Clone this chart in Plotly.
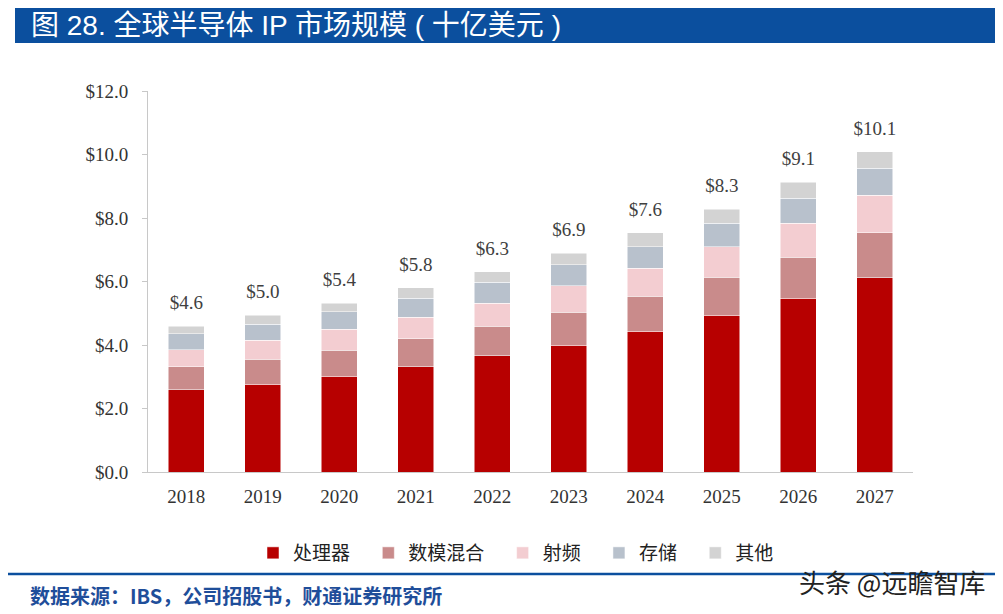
import plotly.graph_objects as go

years = ["2018", "2019", "2020", "2021", "2022", "2023", "2024", "2025", "2026", "2027"]
processor = [2.59, 2.77, 3.01, 3.32, 3.66, 4.00, 4.44, 4.94, 5.48, 6.12]
mixed_signal = [0.72, 0.78, 0.83, 0.88, 0.93, 1.03, 1.09, 1.19, 1.28, 1.42]
rf = [0.54, 0.60, 0.65, 0.67, 0.73, 0.84, 0.88, 0.97, 1.07, 1.18]
memory = [0.51, 0.50, 0.55, 0.60, 0.65, 0.65, 0.68, 0.73, 0.80, 0.85]
other = [0.23, 0.29, 0.27, 0.33, 0.34, 0.37, 0.44, 0.44, 0.49, 0.52]
total_labels = ["$4.6", "$5.0", "$5.4", "$5.8", "$6.3", "$6.9", "$7.6", "$8.3", "$9.1", "$10.1"]

series_names = ["处理器", "数模混合", "射频", "存储", "其他"]
series_values = [processor, mixed_signal, rf, memory, other]
colors = ["#B70000", "#C98B8B", "#F3CDD1", "#B8C1CC", "#D3D3D3"]

# page body has an 8px margin: figure pixel = screen pixel - 8
OFF = 8
W, H = 1003 - OFF, 614 - OFF
L, R, T, B = 148 - OFF, 913 - OFF, 91 - OFF, 472 - OFF
pw, ph = R - L, B - T


def px(x):  # screen x -> paper
    return (x - OFF - L) / pw


def py(y):  # screen y -> paper
    return (B - (y - OFF)) / ph


GAP = "\u2002\u2009"  # extra spacing after each legend entry

fig = go.Figure()
for name, vals, col in zip(series_names, series_values, colors):
    fig.add_trace(go.Bar(
        x=years, y=vals, name=name + GAP,
        marker=dict(color=col, line=dict(color="white", width=0.5)),
    ))

totals = [round(sum(v), 3) for v in zip(*series_values)]
fig.add_trace(go.Scatter(
    x=years, y=totals, text=total_labels, mode="markers+text", textposition="top center",
    marker=dict(size=18, color="rgba(0,0,0,0)"),
    textfont=dict(family="Liberation Serif", size=19, color="#404040"),
    showlegend=False, cliponaxis=False,
))

sans = "Noto Sans CJK SC"
fig.update_layout(
    width=W, height=H,
    margin=dict(l=L, r=W - R, t=T, b=H - B, pad=0),
    paper_bgcolor="white", plot_bgcolor="white",
    barmode="stack", bargap=0.53,
    showlegend=True,
    legend=dict(orientation="h", x=px(253), y=py(553), xanchor="left", yanchor="middle",
                font=dict(family=sans, size=19, color="#222222"), traceorder="normal"),
    xaxis=dict(type="category", categoryorder="array", categoryarray=years,
               range=[-0.5, len(years) - 0.5], fixedrange=True,
               showline=True, linecolor="#C8C8C8", linewidth=1, ticks="",
               tickfont=dict(family="Liberation Serif", size=19, color="#333333"),
               showgrid=False, zeroline=False, ticklabelstandoff=7),
    yaxis=dict(range=[0, 12], dtick=2, tickformat="$.1f", showline=True, linecolor="#C8C8C8",
               linewidth=1, ticks="outside", ticklen=5, tickcolor="#C8C8C8",
               tickfont=dict(family="Liberation Serif", size=19, color="#333333"),
               showgrid=False, zeroline=False, ticklabelstandoff=10),
    shapes=[
        dict(type="rect", xref="paper", yref="paper", x0=px(15), x1=px(1010), y0=py(43), y1=py(0),
             fillcolor="#0B4F9E", line=dict(width=0), layer="below"),
        dict(type="line", xref="paper", yref="paper", x0=px(8), x1=px(1010), y0=py(574), y1=py(574),
             line=dict(color="#0B4F9E", width=2.5)),
    ],
    annotations=[
        dict(xref="paper", yref="paper", x=px(30), y=py(26), xanchor="left", yanchor="middle",
             text="图 28. 全球半导体 IP 市场规模 ( 十亿美元 )", showarrow=False, borderpad=0,
             font=dict(family="Liberation Sans, Noto Sans CJK SC", size=28, color="white")),
        dict(xref="paper", yref="paper", x=px(28), y=py(595), xanchor="left", yanchor="middle",
             text="<b>数据来源：IBS，公司招股书，财通证券研究所</b>", showarrow=False,
             font=dict(family=sans, size=20, color="#1F4E9A")),
        dict(xref="paper", yref="paper", x=px(987), y=py(581), xanchor="right", yanchor="middle",
             text="头条 @远瞻智库", showarrow=False,
             font=dict(family=sans, size=26, color="#222222")),
    ],
)

fig.write_html("out.html")
